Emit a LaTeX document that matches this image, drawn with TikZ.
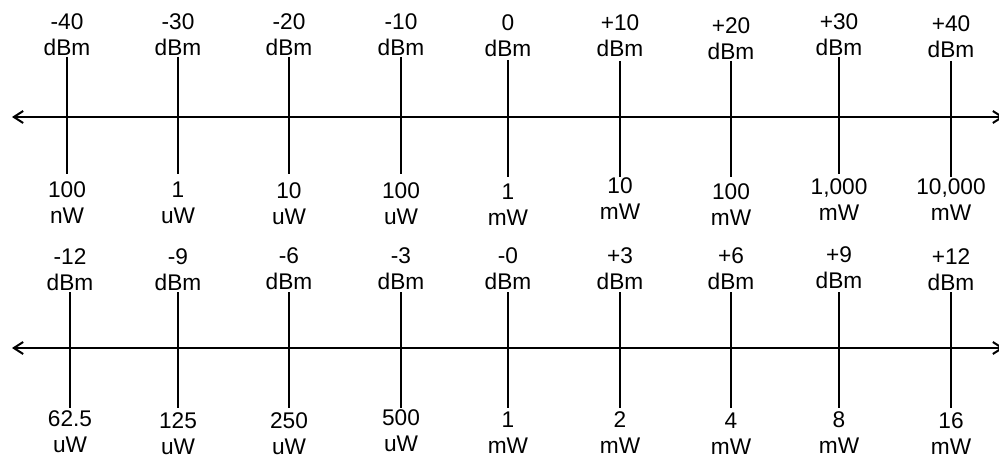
\documentclass[tikz,border=0pt]{standalone}
\usepackage{fontspec}
\setmainfont{Liberation Sans}
\usetikzlibrary{arrows.meta}
\tikzset{
  axisline/.style={line width=1.5pt, {Straight Barb[length=7pt,width=9pt]}-{Straight Barb[length=7pt,width=9pt]}},
  tickline/.style={line width=1.5pt},
  lbl/.style={align=center, inner sep=0pt, font=\fontsize{17}{19.5}\selectfont}
}
\begin{document}
\begin{tikzpicture}[x=0.75pt,y=-0.75pt]
\useasboundingbox (0,0) rectangle (999,456);
\clip (0,0) rectangle (999,456);
% top scale
\coordinate (LA) at (12,117);
\coordinate (RA) at (1004,117);
\draw[axisline] (LA) -- (RA);
\foreach \x/\ta/\tb/\up/\uy/\dn/\dy [count=\i] in {
  67/57/174/{-40\\dBm}/35/{100\\nW}/202.5,
  178/57/174/{-30\\dBm}/35/{1\\uW}/202.5,
  289/57/174/{-20\\dBm}/35/{10\\uW}/203.5,
  401/57/174/{-10\\dBm}/35/{100\\uW}/203.5,
  508/60/177/{0\\dBm}/36/{1\\mW}/204.5,
  620/61/177/{+10\\dBm}/35.5/{10\\mW}/199,
  731/61/177/{+20\\dBm}/38.5/{100\\mW}/205,
  839/57/174/{+30\\dBm}/34.5/{1,000\\mW}/200,
  951/61/177/{+40\\dBm}/36.5/{10,000\\mW}/200}{
  \coordinate (ta\i) at (\x,\ta);
  \coordinate (tb\i) at (\x,\tb);
  \draw[tickline] (ta\i) -- (tb\i);
  \node[lbl] (tu\i) at (\x,\uy) {\up};
  \node[lbl] (td\i) at (\x,\dy) {\dn};
}
% bottom scale
\coordinate (LB) at (12,348);
\coordinate (RB) at (1004,348);
\draw[axisline] (LB) -- (RB);
\foreach \x/\up/\uy/\dn/\dy [count=\i] in {
  70/{-12\\dBm}/270/{62.5\\uW}/432,
  178/{-9\\dBm}/270/{125\\uW}/433.5,
  289/{-6\\dBm}/268.5/{250\\uW}/433.5,
  401/{-3\\dBm}/268.5/{500\\uW}/431,
  508/{-0\\dBm}/268.5/{1\\mW}/432.5,
  620/{+3\\dBm}/268.5/{2\\mW}/432.5,
  731/{+6\\dBm}/268.5/{4\\mW}/433.5,
  839/{+9\\dBm}/268/{8\\mW}/433,
  951/{+12\\dBm}/270/{16\\mW}/433.5}{
  \coordinate (ba\i) at (\x,292);
  \coordinate (bb\i) at (\x,408);
  \draw[tickline] (ba\i) -- (bb\i);
  \node[lbl] (bu\i) at (\x,\uy) {\up};
  \node[lbl] (bd\i) at (\x,\dy) {\dn};
}
\end{tikzpicture}
\end{document}
